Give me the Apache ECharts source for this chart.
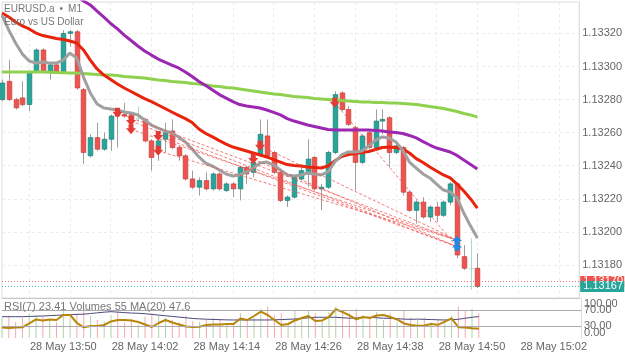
<!DOCTYPE html>
<html>
<head>
<meta charset="utf-8">
<script src="https://cdn.jsdelivr.net/npm/echarts@6/dist/echarts.min.js"></script>
<style>
  html, body { margin: 0; padding: 0; background: #fff; }
  #chart { width: 625px; height: 352px; }
</style>
</head>
<body>
<div id="chart"></div>
<script>
// EURUSD.a M1, 28 May. axis runs 13:41 .. 15:06, bars only up to 14:51
var times = []
for (var m = 13 * 60 + 41; m <= 15 * 60 + 6; m++) {
  times.push('28 May ' + Math.floor(m / 60) + ':' + ('0' + (m % 60)).slice(-2))
}

var opens = [
  1.13280, 1.13291, 1.13280, 1.13281, 1.13277, 1.13297, 1.13310, 1.13297, 1.13301, 1.13297,
  1.13320, 1.13321, 1.13286, 1.13246, 1.13257, 1.13250, 1.13256, 1.13272, 1.13271, 1.13271,
  1.13269, 1.13268, 1.13255, 1.13250, 1.13256, 1.13261, 1.13251, 1.13246, 1.13232, 1.13227,
  1.13231, 1.13226, 1.13235, 1.13225, 1.13229, 1.13226, 1.13239, 1.13236, 1.13247, 1.13258,
  1.13248, 1.13236, 1.13219, 1.13221, 1.13232, 1.13235, 1.13245, 1.13226, 1.13227, 1.13248,
  1.13284, 1.13274, 1.13263, 1.13242, 1.13260, 1.13251, 1.13267, 1.13269, 1.13248, 1.13251,
  1.13224, 1.13213, 1.13218, 1.13209, 1.13215, 1.13210, 1.13218, 1.13229, 1.13185, 1.13178, 1.13178
]
var closes = [
  1.13290, 1.13280, 1.13275, 1.13277, 1.13296, 1.13310, 1.13297, 1.13301, 1.13297, 1.13320,
  1.13321, 1.13287, 1.13248, 1.13257, 1.13250, 1.13256, 1.13270, 1.13270, 1.13270, 1.13268,
  1.13269, 1.13255, 1.13245, 1.13255, 1.13260, 1.13251, 1.13246, 1.13232, 1.13227, 1.13231,
  1.13226, 1.13235, 1.13226, 1.13229, 1.13226, 1.13239, 1.13235, 1.13242, 1.13259, 1.13246,
  1.13236, 1.13219, 1.13221, 1.13233, 1.13237, 1.13244, 1.13226, 1.13227, 1.13248, 1.13283,
  1.13274, 1.13265, 1.13242, 1.13258, 1.13251, 1.13267, 1.13268, 1.13248, 1.13252, 1.13224,
  1.13213, 1.13218, 1.13209, 1.13215, 1.13210, 1.13218, 1.13229, 1.13186, 1.13178, 1.13178, 1.13167
]
var highs = [
  1.13292, 1.13304, 1.13281, 1.13291, 1.13297, 1.13311, 1.13311, 1.13302, 1.13302, 1.13322,
  1.13322, 1.13322, 1.13287, 1.13259, 1.13266, 1.13260, 1.13271, 1.13273, 1.13278, 1.13272,
  1.13276, 1.13269, 1.13256, 1.13258, 1.13266, 1.13268, 1.13252, 1.13247, 1.13237, 1.13233,
  1.13236, 1.13236, 1.13236, 1.13230, 1.13230, 1.13240, 1.13240, 1.13243, 1.13268, 1.13268,
  1.13249, 1.13237, 1.13222, 1.13234, 1.13241, 1.13256, 1.13246, 1.13229, 1.13249, 1.13285,
  1.13285, 1.13276, 1.13264, 1.13259, 1.13261, 1.13274, 1.13274, 1.13270, 1.13253, 1.13252,
  1.13225, 1.13219, 1.13221, 1.13216, 1.13218, 1.13219, 1.13230, 1.13230, 1.13192, 1.13196, 1.13187
]
var lows = [
  1.13279, 1.13279, 1.13274, 1.13276, 1.13273, 1.13296, 1.13296, 1.13292, 1.13296, 1.13296,
  1.13312, 1.13286, 1.13241, 1.13245, 1.13249, 1.13249, 1.13249, 1.13251, 1.13269, 1.13265,
  1.13266, 1.13254, 1.13237, 1.13243, 1.13248, 1.13250, 1.13243, 1.13231, 1.13226, 1.13222,
  1.13225, 1.13225, 1.13225, 1.13224, 1.13221, 1.13219, 1.13229, 1.13233, 1.13246, 1.13244,
  1.13235, 1.13218, 1.13215, 1.13220, 1.13231, 1.13227, 1.13225, 1.13213, 1.13226, 1.13247,
  1.13273, 1.13264, 1.13225, 1.13241, 1.13250, 1.13250, 1.13259, 1.13239, 1.13247, 1.13222,
  1.13212, 1.13205, 1.13208, 1.13206, 1.13206, 1.13209, 1.13216, 1.13184, 1.13177, 1.13165, 1.13166
]

// moving averages
var maFast = [ // grey
  1.133311, 1.133220, 1.133142, 1.133075, 1.133033, 1.133021, 1.133027, 1.133021, 1.133021, 1.133039,
  1.133081, 1.133051, 1.132936, 1.132840, 1.132773, 1.132749, 1.132743, 1.132737, 1.132725, 1.132719,
  1.132707, 1.132676, 1.132646, 1.132628, 1.132610, 1.132598, 1.132574, 1.132543, 1.132501, 1.132453,
  1.132416, 1.132398, 1.132374, 1.132350, 1.132338, 1.132344, 1.132362, 1.132386, 1.132416, 1.132422,
  1.132404, 1.132374, 1.132344, 1.132338, 1.132344, 1.132356, 1.132350, 1.132344, 1.132362, 1.132422,
  1.132465, 1.132483, 1.132483, 1.132489, 1.132519, 1.132555, 1.132574, 1.132568, 1.132543, 1.132495,
  1.132422, 1.132386, 1.132350, 1.132326, 1.132289, 1.132253, 1.132241, 1.132205, 1.132114, 1.132035, 1.131963
]
var maMid = [ // red
  1.133323, 1.133299, 1.133269, 1.133245, 1.133227, 1.133202, 1.133187, 1.133178, 1.133169, 1.133163,
  1.133154, 1.133142, 1.133100, 1.133039, 1.132985, 1.132948, 1.132921, 1.132894, 1.132870, 1.132849,
  1.132827, 1.132806, 1.132788, 1.132767, 1.132746, 1.132725, 1.132704, 1.132685, 1.132661, 1.132622,
  1.132595, 1.132574, 1.132552, 1.132531, 1.132513, 1.132501, 1.132489, 1.132477, 1.132465, 1.132453,
  1.132437, 1.132422, 1.132407, 1.132401, 1.132398, 1.132392, 1.132389, 1.132386, 1.132398, 1.132428,
  1.132456, 1.132468, 1.132474, 1.132480, 1.132486, 1.132498, 1.132510, 1.132513, 1.132510, 1.132501,
  1.132477, 1.132443, 1.132419, 1.132392, 1.132368, 1.132344, 1.132326, 1.132289, 1.132247, 1.132199, 1.132144
]
var maSlow = [ // purple, above the top of the chart at first
  null, null, null, null, null, null, null, null, null, null,
  null, 1.133426, 1.133396, 1.133372, 1.133335, 1.133299, 1.133260, 1.133227, 1.133190, 1.133157,
  1.133124, 1.133094, 1.133069, 1.133045, 1.133027, 1.133009, 1.132991, 1.132967, 1.132939, 1.132909,
  1.132885, 1.132858, 1.132830, 1.132809, 1.132788, 1.132770, 1.132761, 1.132755, 1.132749, 1.132737,
  1.132722, 1.132707, 1.132685, 1.132670, 1.132658, 1.132646, 1.132637, 1.132628, 1.132619, 1.132616,
  1.132616, 1.132616, 1.132616, 1.132616, 1.132616, 1.132613, 1.132610, 1.132604, 1.132601, 1.132595,
  1.132583, 1.132568, 1.132546, 1.132525, 1.132507, 1.132495, 1.132483, 1.132462, 1.132434, 1.132407, 1.132380
]
var maLong = [ // green
  1.132967, 1.132967, 1.132967, 1.132967, 1.132967, 1.132967, 1.132967, 1.132965, 1.132963, 1.132962,
  1.132960, 1.132960, 1.132957, 1.132954, 1.132951, 1.132948, 1.132948, 1.132945, 1.132939, 1.132936,
  1.132933, 1.132930, 1.132924, 1.132918, 1.132915, 1.132909, 1.132906, 1.132903, 1.132897, 1.132894,
  1.132888, 1.132882, 1.132879, 1.132873, 1.132870, 1.132864, 1.132858, 1.132852, 1.132846, 1.132840,
  1.132834, 1.132831, 1.132824, 1.132818, 1.132815, 1.132812, 1.132806, 1.132803, 1.132800, 1.132797,
  1.132794, 1.132791, 1.132788, 1.132785, 1.132785, 1.132782, 1.132782, 1.132779, 1.132779, 1.132776,
  1.132773, 1.132770, 1.132764, 1.132758, 1.132752, 1.132746, 1.132737, 1.132728, 1.132716, 1.132707, 1.132694
]

// lower panel
var rsi = [
  26.3, 25, 26.3, 26.8, 36.3, 46.3, 43.8, 46.3, 45, 57.5,
  57.5, 37.5, 26.8, 30, 30, 32.5, 41.3, 45, 45, 43.8,
  40, 33.8, 27.5, 37.5, 45, 38.8, 33.8, 28.8, 27.5, 28.3,
  32.5, 33.8, 33.8, 35, 35, 48.8, 45, 55, 65.8, 57.5,
  45, 32.5, 35, 43.8, 50, 55, 42.5, 43.8, 52.5, 71.8,
  65, 56.3, 46.8, 52.5, 50, 56.3, 57.5, 52.5, 46.3, 36.3,
  32.5, 30.8, 31.3, 35, 33, 40.8, 49.3, 26.8, 26, 24.5, 23.41
]
var volumes = [
  45, 50, 35, 45, 55, 50, 48, 40, 35, 60,
  45, 55, 65, 50, 40, 38, 52, 60, 35, 42,
  30, 48, 55, 50, 45, 40, 35, 50, 38, 36,
  40, 45, 42, 30, 35, 55, 40, 45, 65, 70,
  50, 55, 30, 60, 45, 62, 55, 40, 58, 70,
  60, 55, 65, 50, 45, 58, 40, 55, 35, 60,
  45, 40, 45, 35, 40, 38, 50, 70, 62, 65, 55
]
var volMa = [
  47.4, 47.4, 47.4, 47.4, 48, 48.5, 49, 49.7, 50.5, 51.2,
  52, 52.5, 53, 54.5, 56, 57.5, 58.6, 57.5, 56.5, 55.5,
  55, 54, 52.5, 51, 49.5, 48, 46.5, 45, 43.5, 42.5,
  41.8, 41.3, 40.8, 40.3, 40.1, 40.1, 40.1, 40.1, 40.1, 40.1,
  40.5, 41, 41.6, 42.3, 43.5, 45, 46.1, 46.1, 46.1, 46.1,
  45, 44, 44.5, 45.5, 46, 45, 44, 43.9, 43, 42,
  41.6, 42, 41.5, 41, 40.5, 40.1, 41, 41.6, 44, 46, 47.6
]
var rsiLevels = [30, 70]
var rsiInnerTicks = [30, 70]  // labels sitting on the level lines
var rsiEdgeTicks = [0, 100]   // labels tucked inside the panel edges

// trades: sells opened at the red arrows, all closed on the 14:48 bar
var sellIdx = [17, 19, 19, 23, 23, 37, 38, 49]
var sellPrice = [1.13272, 1.13267, 1.13262, 1.13258, 1.13249, 1.13244, 1.13252, 1.13278]
var exitIdx = [67, 67, 67, 67, 67, 67, 67, 67]
var exitPrice = [1.13195, 1.13191, 1.13195, 1.13191, 1.13195, 1.13191, 1.13195, 1.13191]
var buyIdx = [67, 67]
var buyPrice = [1.13195, 1.13191]

var ask = 1.13170
var bid = 1.13167

var chart = echarts.init(document.getElementById('chart'))
var font = 'Arial, "Liberation Sans", sans-serif'

var candleData = opens.map(function (o, i) { return [i, o, closes[i], lows[i], highs[i]] })
var tradeData = sellIdx.map(function (s, i) { return [s, sellPrice[i], exitIdx[i], exitPrice[i]] })
var sellData = sellIdx.map(function (s, i) { return [s, sellPrice[i]] })
var buyData = buyIdx.map(function (b, i) { return [b, buyPrice[i]] })
var volData = volumes.map(function (v, i) {
  return { value: v, itemStyle: { color: closes[i] >= opens[i] ? '#b3d3a3' : '#f5a9a9' } }
})

function renderCandle (params, api) {
  var i = api.value(0)
  var o = api.value(1)
  var c = api.value(2)
  var pO = api.coord([i, o])
  var pC = api.coord([i, c])
  var pL = api.coord([i, api.value(3)])
  var pH = api.coord([i, api.value(4)])
  var x = Math.round(pO[0]) + 0.5
  var up = c >= o
  var top = Math.min(pO[1], pC[1])
  var h = Math.max(Math.abs(pO[1] - pC[1]), 1)
  var doji = o === c
  return {
    type: 'group',
    children: [
      { type: 'line', shape: { x1: x, y1: pH[1], x2: x, y2: pL[1] },
        style: { stroke: doji ? '#a8dcc6' : '#9e9e9e', lineWidth: 1 } },
      { type: 'rect', shape: { x: x - 2.3, y: top, width: 4.6, height: h },
        style: { fill: doji ? '#a8dcc6' : (up ? '#26a69a' : '#ef5350'),
                 stroke: doji ? null : (up ? '#1c7d74' : '#c43c39'), lineWidth: 0.7 } }
    ]
  }
}

function renderTrade (params, api) {
  var a = api.coord([api.value(0), api.value(1)])
  var b = api.coord([api.value(2), api.value(3)])
  return {
    type: 'line',
    shape: { x1: a[0], y1: a[1], x2: b[0], y2: b[1] },
    style: { stroke: 'rgba(239, 83, 80, 0.75)', lineWidth: 1, lineDash: [3, 2] }
  }
}

// bid / ask: dotted line across the plot plus a coloured tag on the price scale
function renderQuote (params, api) {
  var y = api.coord([0, api.value(0)])[1]
  var cs = params.coordSys
  var color = api.value(1) === 0 ? '#ef5350' : '#26a69a'
  return {
    type: 'group',
    children: [
      { type: 'line', shape: { x1: cs.x, y1: y, x2: cs.x + cs.width, y2: y },
        style: { stroke: color, lineWidth: 1, lineDash: [1, 2], opacity: 0.8 } },
      { type: 'rect', shape: { x: cs.x + cs.width + 1, y: y - 5.5, width: 44, height: 11 },
        style: { fill: color } },
      { type: 'text', x: cs.x + cs.width + 4, y: y,
        style: { text: api.value(0).toFixed(5), fill: '#fff', font: '11px ' + font, verticalAlign: 'middle' } }
    ]
  }
}

var arrowDown = 'path://M2.5,0 L7.5,0 L7.5,4 L10,4 L5,10 L0,4 L2.5,4 Z'
var arrowUp = 'path://M5,0 L10,6 L7.5,6 L7.5,10 L2.5,10 L2.5,6 L0,6 Z'

function maLine (data, color, width) {
  return {
    type: 'line', data: data, xAxisIndex: 0, yAxisIndex: 0,
    showSymbol: false, silent: true, z: 3,
    lineStyle: { color: color, width: width }
  }
}

var headerTexts = [
  { type: 'text', left: 4, top: 4, z: 100,
    style: { text: 'EURUSD.a\u2002\u2022\u2002M1', fill: '#777', font: '10px ' + font } },
  { type: 'text', left: 4, top: 17, z: 100,
    style: { text: 'Euro vs US Dollar', fill: '#777', font: '10px ' + font } },
  { type: 'text', left: 4, top: 301, z: 100,
    style: {
      text: 'RSI(7) ' + rsi[rsi.length - 1].toFixed(2) +
            ' Volumes ' + volumes[volumes.length - 1] +
            ' MA(20) ' + volMa[volMa.length - 1].toFixed(1),
      fill: '#777', font: '11px ' + font
    } }
]

chart.setOption({
  animation: false,
  backgroundColor: '#fff',
  textStyle: { fontFamily: font },
  graphic: headerTexts,
  grid: [
    { left: 2, top: 2, width: 579, height: 296, show: true, borderColor: '#ddd', borderWidth: 1 },
    { left: 2, top: 298, width: 579, height: 40 }
  ],
  xAxis: [
    {
      type: 'category', gridIndex: 0, data: times, boundaryGap: false,
      axisLabel: { show: false }, axisTick: { show: false },
      axisLine: { show: true, lineStyle: { color: '#c8c8c8' } },
      splitLine: {
        show: true,
        interval: function (index) { return index % 6 === 4 },
        lineStyle: { color: '#ececec', type: [3, 3] }
      }
    },
    {
      type: 'category', gridIndex: 1, data: times, boundaryGap: false,
      axisLine: { show: false }, axisTick: { show: false },
      axisLabel: {
        interval: function (index) { return index % 12 === 9 },
        color: '#666', fontSize: 11, margin: 3
      },
      splitLine: { show: false }
    }
  ],
  yAxis: [
    {
      type: 'value', gridIndex: 0, position: 'right',
      min: 1.13160, max: 1.13339, interval: 0.0002,
      axisLine: { show: true, lineStyle: { color: '#ddd' } },
      axisTick: { show: false },
      axisLabel: {
        color: '#666', fontSize: 11, margin: 3, showMinLabel: false, showMaxLabel: false,
        formatter: function (v) { return v.toFixed(5) }
      },
      splitLine: { show: true, lineStyle: { color: '#ececec', type: [3, 3] } }
    },
    {
      type: 'value', gridIndex: 1, position: 'right', min: 0, max: 100, interval: 10,
      axisLine: { show: true, lineStyle: { color: '#ddd' } },
      axisTick: { show: false }, splitLine: { show: false },
      axisLabel: {
        color: '#666', fontSize: 11, margin: 3,
        formatter: function (v) {
          return rsiInnerTicks.indexOf(v) >= 0 ? v.toFixed(2) : ''
        }
      }
    },
    { type: 'value', gridIndex: 1, min: 0, max: 89, show: false }
  ],
  series: [
    {
      type: 'bar', name: 'Volumes', xAxisIndex: 1, yAxisIndex: 2,
      data: volData, barWidth: 1, silent: true, z: 1
    },
    {
      type: 'line', name: 'MA(20)', xAxisIndex: 1, yAxisIndex: 2, data: volMa,
      showSymbol: false, silent: true, z: 2,
      lineStyle: { color: '#4b4a7d', width: 1 }
    },
    {
      type: 'line', name: 'RSI(7)', xAxisIndex: 1, yAxisIndex: 1, data: rsi,
      showSymbol: false, silent: true, z: 3,
      lineStyle: { color: '#b8860b', width: 2 },
      markLine: {
        silent: true, symbol: ['none', 'none'], label: { show: false },
        lineStyle: { color: '#aaa', type: 'solid', width: 1 },
        data: rsiLevels.map(function (l) { return { yAxis: l } })
      }
    },
    {
      type: 'custom', name: 'EURUSD.a', xAxisIndex: 0, yAxisIndex: 0,
      renderItem: renderCandle, data: candleData, z: 2,
      encode: { x: 0, y: [1, 2, 3, 4] }
    },
    maLine(maLong, '#8fd14f', 3),
    maLine(maSlow, '#9b27b3', 3),
    maLine(maMid, '#e8250c', 3),
    maLine(maFast, '#a0a0a0', 3),
    {
      type: 'custom', name: 'trades', xAxisIndex: 0, yAxisIndex: 0,
      renderItem: renderTrade, data: tradeData, z: 4, silent: true,
      encode: { x: [0, 2], y: [1, 3] }
    },
    {
      type: 'scatter', name: 'sell', xAxisIndex: 0, yAxisIndex: 0, data: sellData,
      symbol: arrowDown, symbolSize: [10, 10], z: 5, silent: true,
      itemStyle: { color: '#e53935', opacity: 1 }
    },
    {
      type: 'scatter', name: 'buy', xAxisIndex: 0, yAxisIndex: 0, data: buyData,
      symbol: arrowUp, symbolSize: [10, 8], z: 5, silent: true,
      itemStyle: { color: '#1e88e5', opacity: 1 }
    },
    {
      type: 'custom', name: 'quotes', xAxisIndex: 0, yAxisIndex: 0,
      renderItem: renderQuote, data: [[ask, 0], [bid, 1]], z: 6, silent: true,
      clip: false, encode: { y: 0 }
    }
  ]
})

// 0 / 100 on the RSI scale, placed with the RSI axis and kept inside the panel:
// 100 hangs below the top edge, 0 sits on the bottom edge
var rsiRight = chart.convertToPixel({ xAxisIndex: 1 }, times[times.length - 1])
var edgeTexts = rsiEdgeTicks.map(function (t) {
  var y = chart.convertToPixel({ yAxisIndex: 1 }, t)
  return {
    type: 'text', x: rsiRight + 3, y: y, z: 1000, zlevel: 1,
    style: {
      text: t.toFixed(2), fill: '#666', font: '11px ' + font,
      verticalAlign: t > 50 ? 'top' : 'bottom'
    }
  }
})
chart.setOption({ graphic: headerTexts.concat(edgeTexts) })
</script>
</body>
</html>
